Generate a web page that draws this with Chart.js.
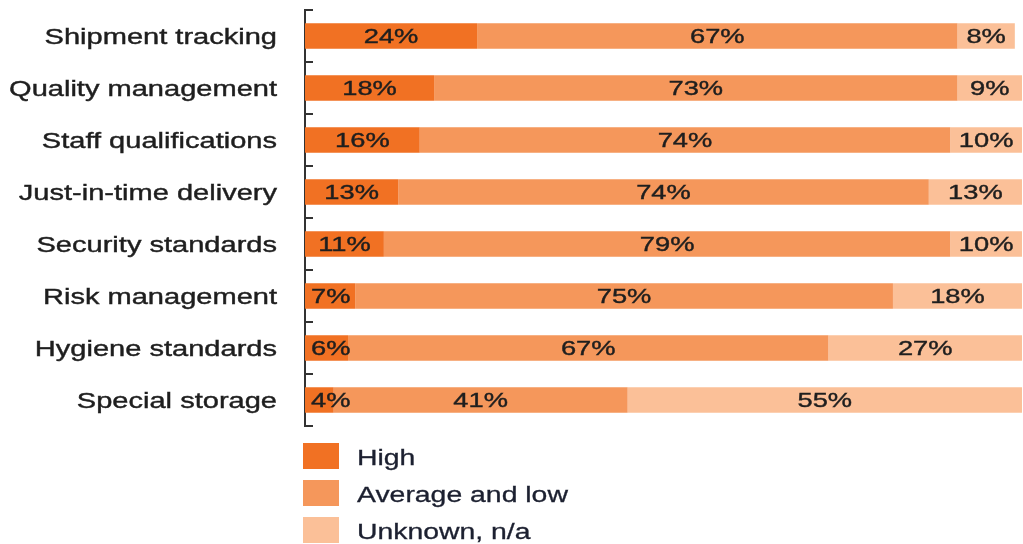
<!DOCTYPE html>
<html>
<head>
<meta charset="utf-8">
<script src="https://cdn.jsdelivr.net/npm/chart.js@4.4.0/dist/chart.umd.min.js"></script>
<style>
    body { margin: 0; background: #fff; }
    #wrap { position: relative; width: 1023px; height: 544px; }
    #legend { position: absolute; left: 303px; top: 443px; }
    .item { display: flex; align-items: center; height: 26px; margin-bottom: 11px; }
    .box { width: 36px; height: 26px; }
    .txt { margin-left: 18px; margin-top: 4px; font: 21.5px "Liberation Sans", Arial, sans-serif; color: #1c2030;
           -webkit-text-stroke: 0.3px #1c2030;
           transform: scaleX(1.32); transform-origin: left center; white-space: nowrap; }
</style>
</head>
<body>
<div id="wrap">
    <canvas id="chart" width="1023" height="544"></canvas>
    <div id="legend"></div>
</div>
<script>
// 数据
const categories = ['Shipment tracking', 'Quality management', 'Staff qualifications', 'Just-in-time delivery',
    'Security standards', 'Risk management', 'Hygiene standards', 'Special storage'];
const seriesNames = ['High', 'Average and low', 'Unknown, n/a'];
const highValues = [24, 18, 16, 13, 11, 7, 6, 4];
const averageValues = [67, 73, 74, 74, 79, 75, 67, 41];
const unknownValues = [8, 9, 10, 13, 10, 18, 27, 55];
const colors = ['#f17123', '#f5975b', '#fbc098'];

const LABEL_FONT = '22px "Liberation Sans", Arial, sans-serif';
const VALUE_FONT = '21px "Liberation Sans", Arial, sans-serif';

// 拉伸文字
function drawStretched(ctx, text, x, y, sx) {
    ctx.save();
    ctx.translate(x, y);
    ctx.scale(sx, 1);
    ctx.strokeText(text, 0, 0);
    ctx.fillText(text, 0, 0);
    ctx.restore();
}

// 文字绘制插件（类别标签 + 数值标签）
const textPlugin = {
    id: 'textPlugin',
    afterDatasetsDraw(chart) {
        const ctx = chart.ctx;
        const yScale = chart.scales.y;
        ctx.save();
        ctx.fillStyle = '#1e1e1e';
        ctx.strokeStyle = '#1e1e1e';
        ctx.lineWidth = 0.4;
        ctx.textBaseline = 'middle';

        // 类别标签
        ctx.font = LABEL_FONT;
        ctx.textAlign = 'right';
        categories.forEach((c, i) => {
            drawStretched(ctx, c, 277, yScale.getPixelForValue(i) + 1.5, 1.32);
        });

        // 数值标签
        ctx.font = VALUE_FONT;
        ctx.textAlign = 'center';
        chart.data.datasets.forEach((ds, di) => {
            const meta = chart.getDatasetMeta(di);
            meta.data.forEach((bar, i) => {
                const text = ds.data[i] + '%';
                const w = ctx.measureText(text).width * 1.3;
                const left = Math.min(bar.x, bar.base);
                let x = (bar.x + bar.base) / 2;
                if (x - w / 2 < left + 6) x = left + 6 + w / 2;
                drawStretched(ctx, text, x, bar.y + 1.5, 1.3);
            });
        });
        ctx.restore();
    }
};

const ctx = document.getElementById('chart').getContext('2d');
new Chart(ctx, {
    type: 'bar',
    data: {
        labels: categories,
        datasets: [
            { label: seriesNames[0], data: highValues, backgroundColor: colors[0] },
            { label: seriesNames[1], data: averageValues, backgroundColor: colors[1] },
            { label: seriesNames[2], data: unknownValues, backgroundColor: colors[2] }
        ]
    },
    options: {
        indexAxis: 'y',
        responsive: false,
        animation: false,
        layout: { padding: { left: 0, top: 10, right: 1, bottom: 118 } },
        datasets: {
            bar: { barPercentage: 0.49, categoryPercentage: 1, borderWidth: 0 }
        },
        plugins: {
            legend: { display: false },
            tooltip: { enabled: false }
        },
        scales: {
            x: {
                stacked: true,
                min: 0,
                max: 100,
                display: false
            },
            y: {
                stacked: true,
                afterFit: function(scale) { scale.width = 305; },
                ticks: { display: false },
                grid: {
                    offset: true,
                    drawOnChartArea: false,
                    drawTicks: true,
                    tickLength: -8,
                    color: '#333',
                    lineWidth: 2
                },
                border: { display: true, color: '#333', width: 2 }
            }
        }
    },
    plugins: [textPlugin]
});

// 自定义图例
const legend = document.getElementById('legend');
seriesNames.forEach((name, i) => {
    const item = document.createElement('div');
    item.className = 'item';
    item.innerHTML = '<div class="box" style="background:' + colors[i] + '"></div><div class="txt">' + name + '</div>';
    legend.appendChild(item);
});
</script>
</body>
</html>
